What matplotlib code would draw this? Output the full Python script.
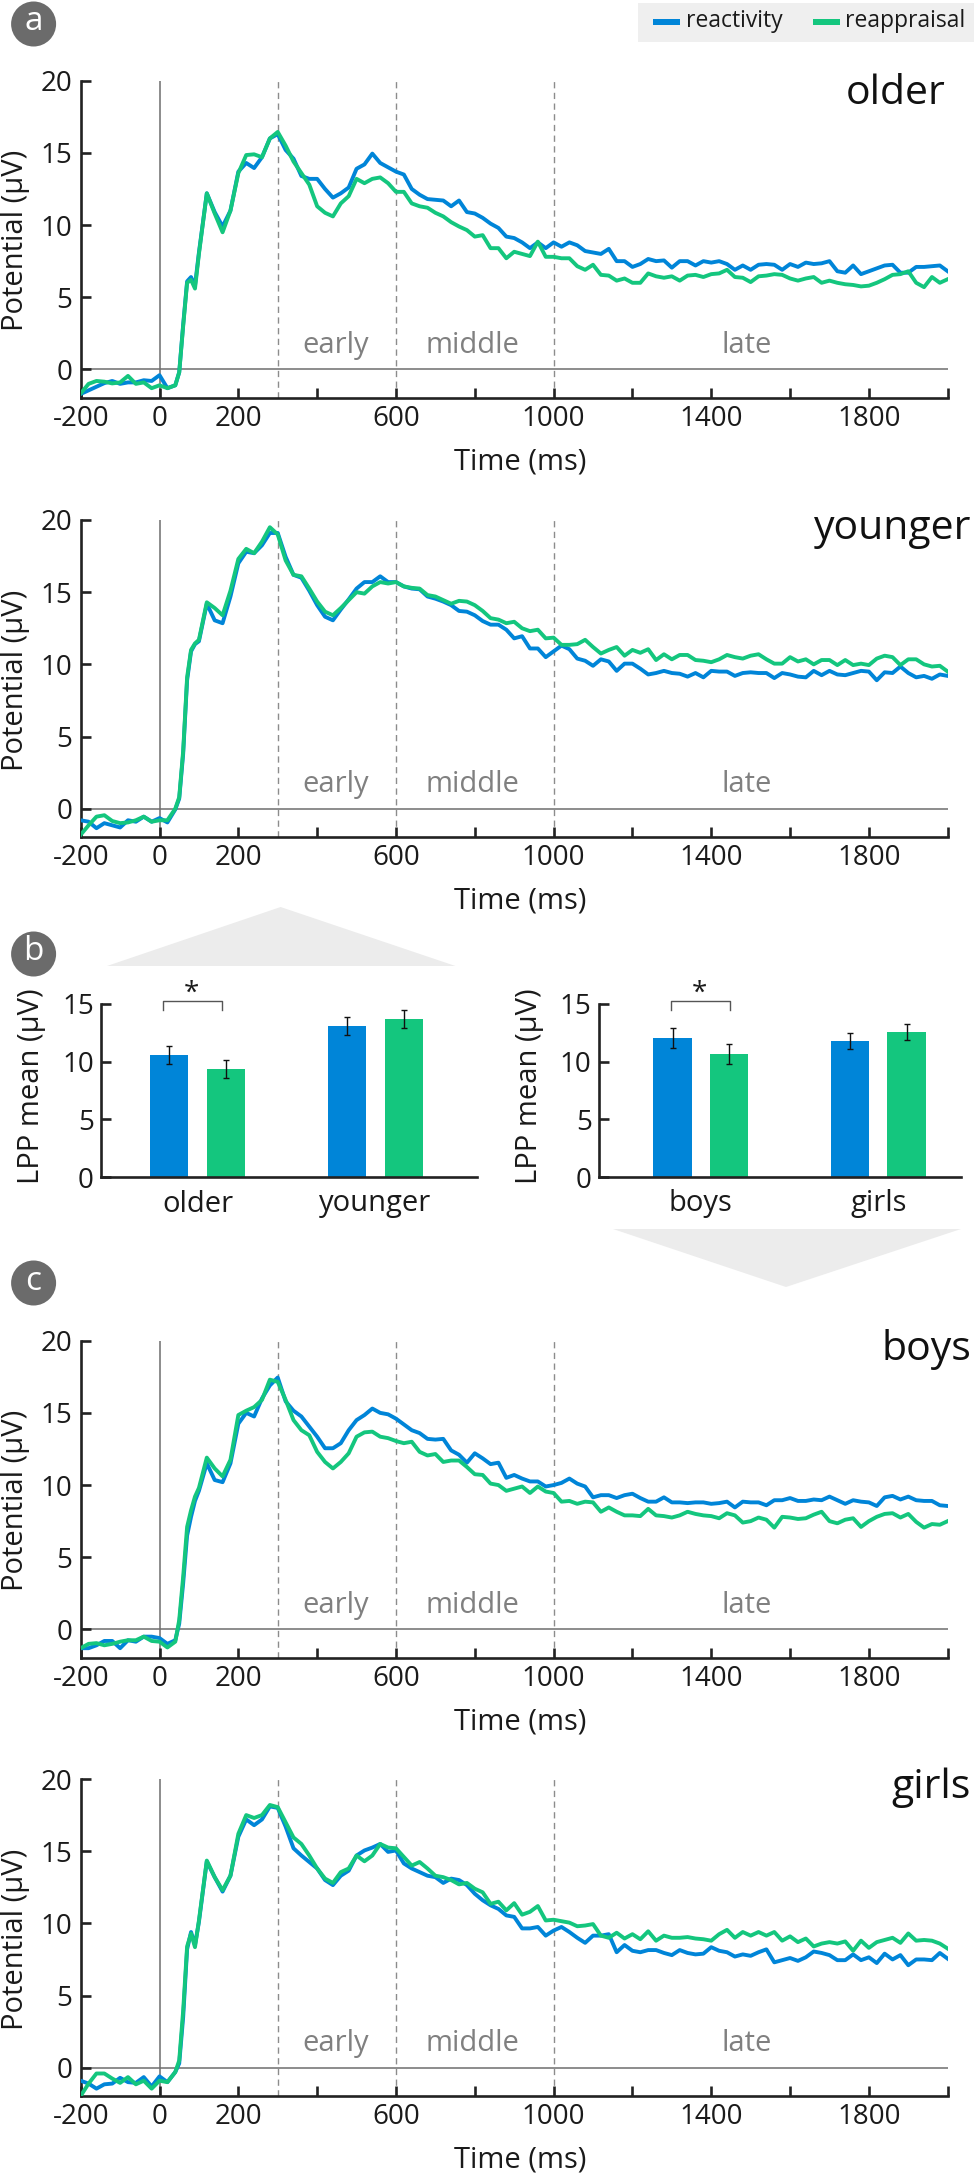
import matplotlib
matplotlib.use('Agg')
import matplotlib.pyplot as plt
from matplotlib.patches import Ellipse, Polygon, Rectangle
import numpy as np

plt.rcParams['font.family'] = ['Open Sans', 'DejaVu Sans']

W, H = 974, 2176
BLUE = '#0085d8'
GREEN = '#14c67e'
GREY = '#808080'

# time grid: -200..20, then finer on the rise, then every 20 ms
t_start = list(range(-200, 40, 20)) + [40, 50, 60, 70, 80, 90, 100]
t_mid = list(range(120, 1001, 20))
t_late = list(range(1020, 2001, 20))
times = np.array(t_start + t_mid + t_late)

older_react = [-1.7, -1.45, -1.2, -0.95, -0.8, -1.0, -0.9, -0.9, -0.75, -0.8, -0.4, -1.3,
    -1.1, -0.2, 3.1, 6.1, 6.4, 5.8, 8.1,
    12.2, 10.9, 9.9, 11.0, 13.7, 14.3, 13.95, 14.7, 16.0, 16.3, 15.2, 14.6, 13.4, 13.2, 13.2, 12.5, 11.9,
    12.2, 12.6, 13.9, 14.2, 14.95, 14.3, 14.0, 13.7, 13.5, 12.5, 12.1, 11.8, 11.75, 11.7, 11.3, 11.7, 10.9,
    10.8, 10.5, 10.1, 9.8, 9.2, 9.1, 8.8, 8.4, 8.8, 8.4, 8.8,
    8.5, 8.8, 8.6, 8.2, 8.1, 8.0, 8.35, 7.5, 7.5, 7.1, 7.3, 7.65, 7.5, 7.55, 7.05, 7.5, 7.5, 7.2, 7.5, 7.4,
    7.5, 7.3, 6.9, 7.2, 6.9, 7.25, 7.3, 7.25, 6.9, 7.3, 7.1, 7.4, 7.3, 7.35, 7.5, 6.8, 6.7, 7.2, 6.6, 6.8,
    7.0, 7.2, 7.25, 6.7, 6.7, 7.1, 7.1, 7.15, 7.2, 6.8]
older_reapp = [-1.66, -1.0, -0.8, -0.85, -0.97, -0.9, -0.45, -1.0, -0.9, -1.3, -1.1, -1.3,
    -1.1, -0.2, 3.0, 6.0, 6.2, 5.6, 8.0,
    12.2, 10.8, 9.5, 11.0, 13.6, 14.85, 14.9, 14.7, 16.0, 16.45, 15.5, 14.4, 13.6, 12.8, 11.3, 10.85, 10.6,
    11.5, 12.0, 13.2, 12.9, 13.2, 13.3, 12.9, 12.3, 12.3, 11.5, 11.3, 11.2, 10.85, 10.6, 10.2, 9.9, 9.65,
    9.2, 9.3, 8.4, 8.4, 7.7, 8.15, 8.0, 7.85, 8.85, 7.8, 7.8,
    7.7, 7.7, 7.15, 6.9, 7.25, 6.55, 6.5, 6.15, 6.3, 6.0, 6.0, 6.65, 6.45, 6.35, 6.45, 6.15, 6.5, 6.55, 6.4,
    6.6, 6.65, 6.9, 6.4, 6.35, 6.05, 6.45, 6.5, 6.6, 6.55, 6.3, 6.15, 6.3, 6.4, 6.0, 6.15, 6.0, 5.9, 5.85,
    5.75, 5.8, 6.0, 6.25, 6.55, 6.6, 6.8, 6.0, 5.7, 6.4, 6.0, 6.25]

younger_react = [-0.8, -0.9, -1.35, -1.0, -1.15, -1.3, -0.8, -0.9, -0.55, -0.9, -0.65, -0.95,
    -0.05, 0.7, 3.8, 8.9, 10.9, 11.4, 11.6,
    14.2, 13.05, 12.85, 14.7, 17.0, 17.8, 17.7, 18.25, 19.1, 19.1, 17.45, 16.2, 16.0, 15.1, 14.1, 13.3, 13.05,
    13.8, 14.5, 15.25, 15.7, 15.7, 16.1, 15.7, 15.7, 15.4, 15.25, 15.2, 14.7, 14.55, 14.35, 14.1, 13.7, 13.65,
    13.4, 13.0, 12.75, 12.75, 12.4, 11.8, 11.95, 11.1, 11.1, 10.5, 10.9,
    11.3, 11.05, 10.4, 10.25, 9.9, 10.35, 10.2, 9.55, 10.05, 10.05, 9.7, 9.3, 9.4, 9.55, 9.4, 9.35, 9.15, 9.4,
    9.1, 9.55, 9.5, 9.5, 9.2, 9.4, 9.45, 9.4, 9.4, 9.05, 9.4, 9.3, 9.15, 9.1, 9.55, 9.25, 9.55, 9.3, 9.25,
    9.4, 9.55, 9.5, 8.9, 9.45, 9.4, 9.85, 9.4, 9.1, 9.2, 9.0, 9.3, 9.2]
younger_reapp = [-1.8, -1.15, -0.55, -0.45, -0.85, -1.0, -0.95, -0.8, -0.55, -0.9, -0.8, -0.8,
    0.0, 0.8, 4.0, 9.1, 11.0, 11.45, 11.7,
    14.3, 13.9, 13.4, 15.1, 17.3, 18.0, 17.7, 18.5, 19.5, 19.0, 17.2, 16.2, 16.1, 15.25, 14.35, 13.65, 13.4,
    13.9, 14.45, 15.0, 14.9, 15.4, 15.7, 15.6, 15.7, 15.4, 15.3, 15.25, 14.8, 14.7, 14.45, 14.2, 14.4, 14.35,
    14.1, 13.7, 13.2, 13.1, 12.85, 12.95, 12.5, 12.3, 12.4, 11.8, 11.85,
    11.35, 11.35, 11.4, 11.7, 11.2, 10.75, 11.0, 11.2, 10.6, 11.0, 10.8, 11.05, 10.3, 10.7, 10.35, 10.65, 10.65,
    10.3, 10.25, 10.15, 10.35, 10.65, 10.5, 10.4, 10.6, 10.7, 10.35, 10.05, 10.05, 10.5, 10.2, 10.35, 10.0, 10.3,
    10.3, 9.95, 10.3, 9.95, 10.05, 9.95, 10.4, 10.6, 10.5, 9.95, 10.35, 10.35, 10.0, 9.85, 9.9, 9.5]

boys_react = [-1.3, -1.3, -1.1, -0.8, -0.8, -1.3, -0.75, -0.85, -0.5, -0.5, -0.6, -1.0,
    -0.75, 0.4, 3.2, 6.5, 7.8, 8.9, 9.6,
    11.5, 10.35, 10.2, 11.5, 14.25, 15.0, 14.75, 16.0, 16.9, 17.45, 15.8, 15.15, 14.75, 14.05, 13.35, 12.55, 12.55,
    12.9, 13.8, 14.5, 14.85, 15.3, 15.0, 14.9, 14.6, 14.2, 13.8, 13.6, 13.2, 13.15, 13.2, 12.4, 12.1, 11.55,
    12.2, 11.85, 11.45, 11.55, 10.5, 10.7, 10.45, 10.25, 10.25, 9.9, 10.0,
    10.15, 10.45, 10.1, 9.9, 9.15, 9.3, 9.3, 9.1, 9.3, 9.4, 9.1, 8.85, 8.85, 9.15, 8.8, 8.8, 8.75, 8.8, 8.8,
    8.7, 8.75, 8.85, 8.45, 8.85, 8.8, 8.8, 8.6, 8.95, 8.95, 9.1, 8.9, 8.9, 9.0, 8.95, 9.2, 8.95, 8.7, 8.95,
    8.85, 8.8, 8.55, 9.15, 9.25, 9.0, 9.2, 8.95, 8.9, 8.9, 8.6, 8.55]
boys_reapp = [-1.3, -1.0, -0.95, -1.1, -1.0, -0.85, -0.75, -0.75, -0.5, -0.8, -0.85, -1.25,
    -0.85, 0.65, 3.65, 7.1, 8.25, 9.2, 9.8,
    11.9, 11.15, 10.6, 11.75, 14.85, 15.15, 15.4, 15.9, 17.3, 17.15, 15.9, 14.5, 13.8, 13.45, 12.3, 11.6, 11.15,
    11.6, 12.2, 13.35, 13.65, 13.7, 13.35, 13.25, 13.05, 12.9, 13.0, 12.3, 12.05, 12.15, 11.6, 11.7, 11.7, 11.25,
    10.75, 10.7, 10.1, 10.0, 9.6, 9.75, 9.9, 9.45, 9.9, 9.55, 9.45,
    8.85, 8.9, 8.7, 8.85, 8.8, 8.15, 8.45, 8.15, 7.9, 7.9, 7.85, 8.35, 7.9, 7.85, 7.75, 7.9, 8.15, 8.0, 7.9,
    7.85, 7.7, 8.05, 7.9, 7.4, 7.5, 7.75, 7.6, 7.05, 7.8, 7.75, 7.65, 7.7, 7.95, 8.15, 7.5, 7.35, 7.6, 7.7,
    7.1, 7.5, 7.8, 8.0, 8.05, 7.75, 8.0, 7.45, 7.05, 7.3, 7.25, 7.5]

girls_react = [-0.9, -1.1, -1.45, -1.15, -1.1, -0.7, -1.0, -1.05, -0.65, -1.3, -0.6, -1.0,
    -0.3, 0.3, 3.5, 8.2, 9.4, 8.5, 10.1,
    14.3, 13.2, 12.2, 13.3, 16.0, 17.2, 16.8, 17.2, 18.1, 18.0, 16.7, 15.2, 14.7, 14.25, 13.8, 13.0, 12.65,
    13.3, 13.65, 14.7, 15.05, 15.25, 15.5, 14.95, 15.05, 14.15, 13.8, 13.55, 13.3, 13.2, 12.8, 13.1, 13.0, 12.65,
    12.05, 11.6, 11.25, 11.0, 10.55, 10.45, 9.65, 9.65, 9.75, 9.15, 9.5,
    9.75, 9.4, 9.0, 8.65, 9.15, 9.15, 9.25, 8.0, 8.5, 8.1, 8.0, 8.15, 8.15, 7.95, 7.8, 8.15, 7.95, 7.85, 7.9,
    8.35, 8.1, 8.0, 7.7, 7.85, 7.75, 8.0, 8.2, 7.3, 7.45, 7.6, 7.4, 7.65, 8.05, 7.95, 7.8, 7.45, 7.45, 7.85,
    7.45, 7.65, 7.25, 7.9, 7.5, 7.8, 7.1, 7.5, 7.5, 7.45, 7.95, 7.55]
girls_reapp = [-1.95, -1.1, -0.4, -0.4, -0.75, -1.05, -0.65, -1.15, -0.9, -1.45, -0.9, -1.0,
    -0.3, 0.5, 3.95, 8.4, 9.3, 8.35, 10.2,
    14.35, 13.2, 12.3, 13.3, 16.2, 17.5, 17.3, 17.5, 18.2, 18.05, 17.0, 15.95, 15.5, 14.7, 13.8, 13.1, 12.8,
    13.55, 13.8, 14.7, 14.3, 14.7, 15.5, 15.25, 15.2, 14.6, 14.0, 14.25, 13.8, 13.3, 13.2, 13.0, 12.7, 12.8,
    12.4, 12.15, 11.35, 11.5, 10.9, 11.4, 10.6, 10.8, 11.2, 10.2, 10.25,
    10.15, 10.05, 9.8, 9.85, 9.95, 9.15, 9.0, 9.35, 8.95, 9.25, 8.9, 9.45, 8.8, 9.15, 9.0, 9.0, 9.05, 8.95, 8.9,
    8.8, 9.25, 9.55, 9.0, 9.4, 9.15, 9.4, 9.15, 9.4, 8.8, 9.1, 8.7, 8.95, 8.4, 8.6, 8.7, 8.6, 8.75, 8.1,
    8.8, 8.3, 8.7, 8.85, 9.0, 8.65, 9.3, 8.8, 8.85, 8.8, 8.6, 8.25]

# bars
age_groups = ['older', 'younger']
age_react = [10.6, 13.1]
age_reapp = [9.35, 13.7]
age_react_err = [0.8, 0.75]
age_reapp_err = [0.8, 0.75]
sex_groups = ['boys', 'girls']
sex_react = [12.05, 11.8]
sex_reapp = [10.65, 12.55]
sex_react_err = [0.85, 0.7]
sex_reapp_err = [0.85, 0.7]

x_ticks = list(range(-200, 2001, 200))
x_labels = ['-200', '0', '200', '', '600', '', '1000', '', '1400', '', '1800', '']
y_ticks = [0, 5, 10, 15, 20]

fig = plt.figure(figsize=(W / 100, H / 100), dpi=100)

# everything placed in pixels goes on this one
over = fig.add_axes([0, 0, 1, 1], zorder=0)
over.set_xlim(0, W)
over.set_ylim(H, 0)
over.axis('off')


def px_axes(left, top, right, bottom):
    return fig.add_axes([left / W, 1 - bottom / H, (right - left) / W, (bottom - top) / H],
                        zorder=1, facecolor='none')


def style(ax):
    ax.spines['top'].set_visible(False)
    ax.spines['right'].set_visible(False)
    ax.spines['left'].set_linewidth(1.9)
    ax.spines['bottom'].set_linewidth(1.9)
    ax.spines['left'].set_color('#222222')
    ax.spines['bottom'].set_color('#222222')


def erp(top, react, reapp, name, name_y, name_x):
    ax = px_axes(80.7, top, 947.7, top + 317.3)
    ax.set_xlim(-200, 2000)
    ax.set_ylim(-1.98, 20)
    style(ax)
    ax.axhline(0, color='#6e6e6e', lw=1.1, zorder=1)
    ax.axvline(0, color='#6e6e6e', lw=1.1, zorder=1)
    for v in [300, 600, 1000]:
        ax.plot([v, v], [-1.98, 20.15], color='#8c8c8c', lw=1, dashes=(4.5, 3.2), clip_on=False, zorder=1)
    ax.plot(times, react, color=BLUE, lw=2.8, zorder=3)
    ax.plot(times, reapp, color=GREEN, lw=2.8, zorder=4)
    ax.set_xticks(x_ticks)
    ax.set_xticklabels(x_labels)
    ax.set_yticks(y_ticks)
    ax.tick_params(direction='in', length=7.5, width=1.9, color='#222222', labelsize=20, pad=5, labelcolor='#1a1a1a')
    ax.tick_params(axis='y', pad=6)
    for lab, x0 in [('early', 447), ('middle', 795), ('late', 1491)]:
        ax.text(x0, 1.65, lab, color=GREY, fontsize=21, ha='center', va='center')
    over.text(520, top + 381, 'Time (ms)', fontsize=21, ha='center', va='center', color='#1a1a1a')
    over.text(16, top + 160, 'Potential (µV)', fontsize=21, rotation=90, ha='center', va='center', color='#1a1a1a')
    over.text(name_x, name_y, name, fontsize=29.5, ha='right', va='center', color='#111111')
    return ax


erp(80.7, older_react, older_reapp, 'older', 94, 946)
erp(520, younger_react, younger_reapp, 'younger', 529, 971)
erp(1340.7, boys_react, boys_reapp, 'boys', 1349, 971)
erp(1779, girls_react, girls_reapp, 'girls', 1788, 971)


def bars(left, right, groups, react, reapp, react_err, reapp_err, xlim, label_x):
    ax = px_axes(left, 1004, right, 1177)
    ax.set_xlim(*xlim)
    ax.set_ylim(0, 15)
    style(ax)
    pos = np.arange(2)
    ax.bar(pos - 0.159, react, 0.216, color=BLUE, zorder=2)
    ax.bar(pos + 0.159, reapp, 0.216, color=GREEN, zorder=2)
    ax.errorbar(pos - 0.159, react, yerr=react_err, fmt='none', ecolor='#111111', elinewidth=1, capsize=2.2, zorder=3)
    ax.errorbar(pos + 0.159, reapp, yerr=reapp_err, fmt='none', ecolor='#111111', elinewidth=1, capsize=2.2, zorder=3)
    ax.set_yticks([0, 5, 10, 15])
    ax.set_xticks(pos)
    ax.set_xticklabels(groups)
    ax.tick_params(axis='y', direction='in', length=7.5, width=1.9, color='#222222', labelsize=20, pad=5, labelcolor='#1a1a1a')
    ax.tick_params(axis='x', length=0, labelsize=21, pad=9, labelcolor='#1a1a1a')
    over.text(label_x, 1086, 'LPP mean (µV)', fontsize=21, rotation=90, ha='center', va='center', color='#1a1a1a')


bars(100.8, 477, age_groups, age_react, age_reapp, age_react_err, age_reapp_err, (-0.543, 1.57), 32)
bars(598.6, 961, sex_groups, sex_react, sex_reapp, sex_react_err, sex_reapp_err, (-0.575, 1.465), 529)

# significance brackets
for x1, x2 in [(163, 222), (671, 730)]:
    over.plot([x1, x1, x2, x2], [1010, 1001, 1001, 1010], color='#555555', lw=1)
    over.text((x1 + x2) / 2 - 1, 994, '*', fontsize=20, ha='center', va='center', color='#1a1a1a')

# grey wedges between panels
over.add_patch(Polygon([(107, 966), (455.5, 966), (280.6, 907)], closed=True, fc='#ececec', ec='none'))
over.add_patch(Polygon([(613, 1229), (961, 1229), (786, 1287)], closed=True, fc='#ececec', ec='none'))

# panel letters
for letter, cy in [('a', 24), ('b', 954), ('c', 1283)]:
    over.add_patch(Ellipse((33.6, cy), 45, 45, fc='#6b6b6b', ec='none'))
    over.text(33.6, cy - 2, letter, color='white', fontsize=24, ha='center', va='center')

# legend
over.add_patch(Rectangle((638, 3), 336, 39, fc='#efefef', ec='none'))
over.add_patch(Rectangle((653, 19), 27, 6, fc=BLUE, ec='none'))
over.add_patch(Rectangle((813, 19), 27, 6, fc=GREEN, ec='none'))
over.text(686, 21, 'reactivity', fontsize=16.5, ha='left', va='center', color='#1a1a1a')
over.text(845, 21, 'reappraisal', fontsize=16.5, ha='left', va='center', color='#1a1a1a')

fig.savefig('out.png', dpi=100)
